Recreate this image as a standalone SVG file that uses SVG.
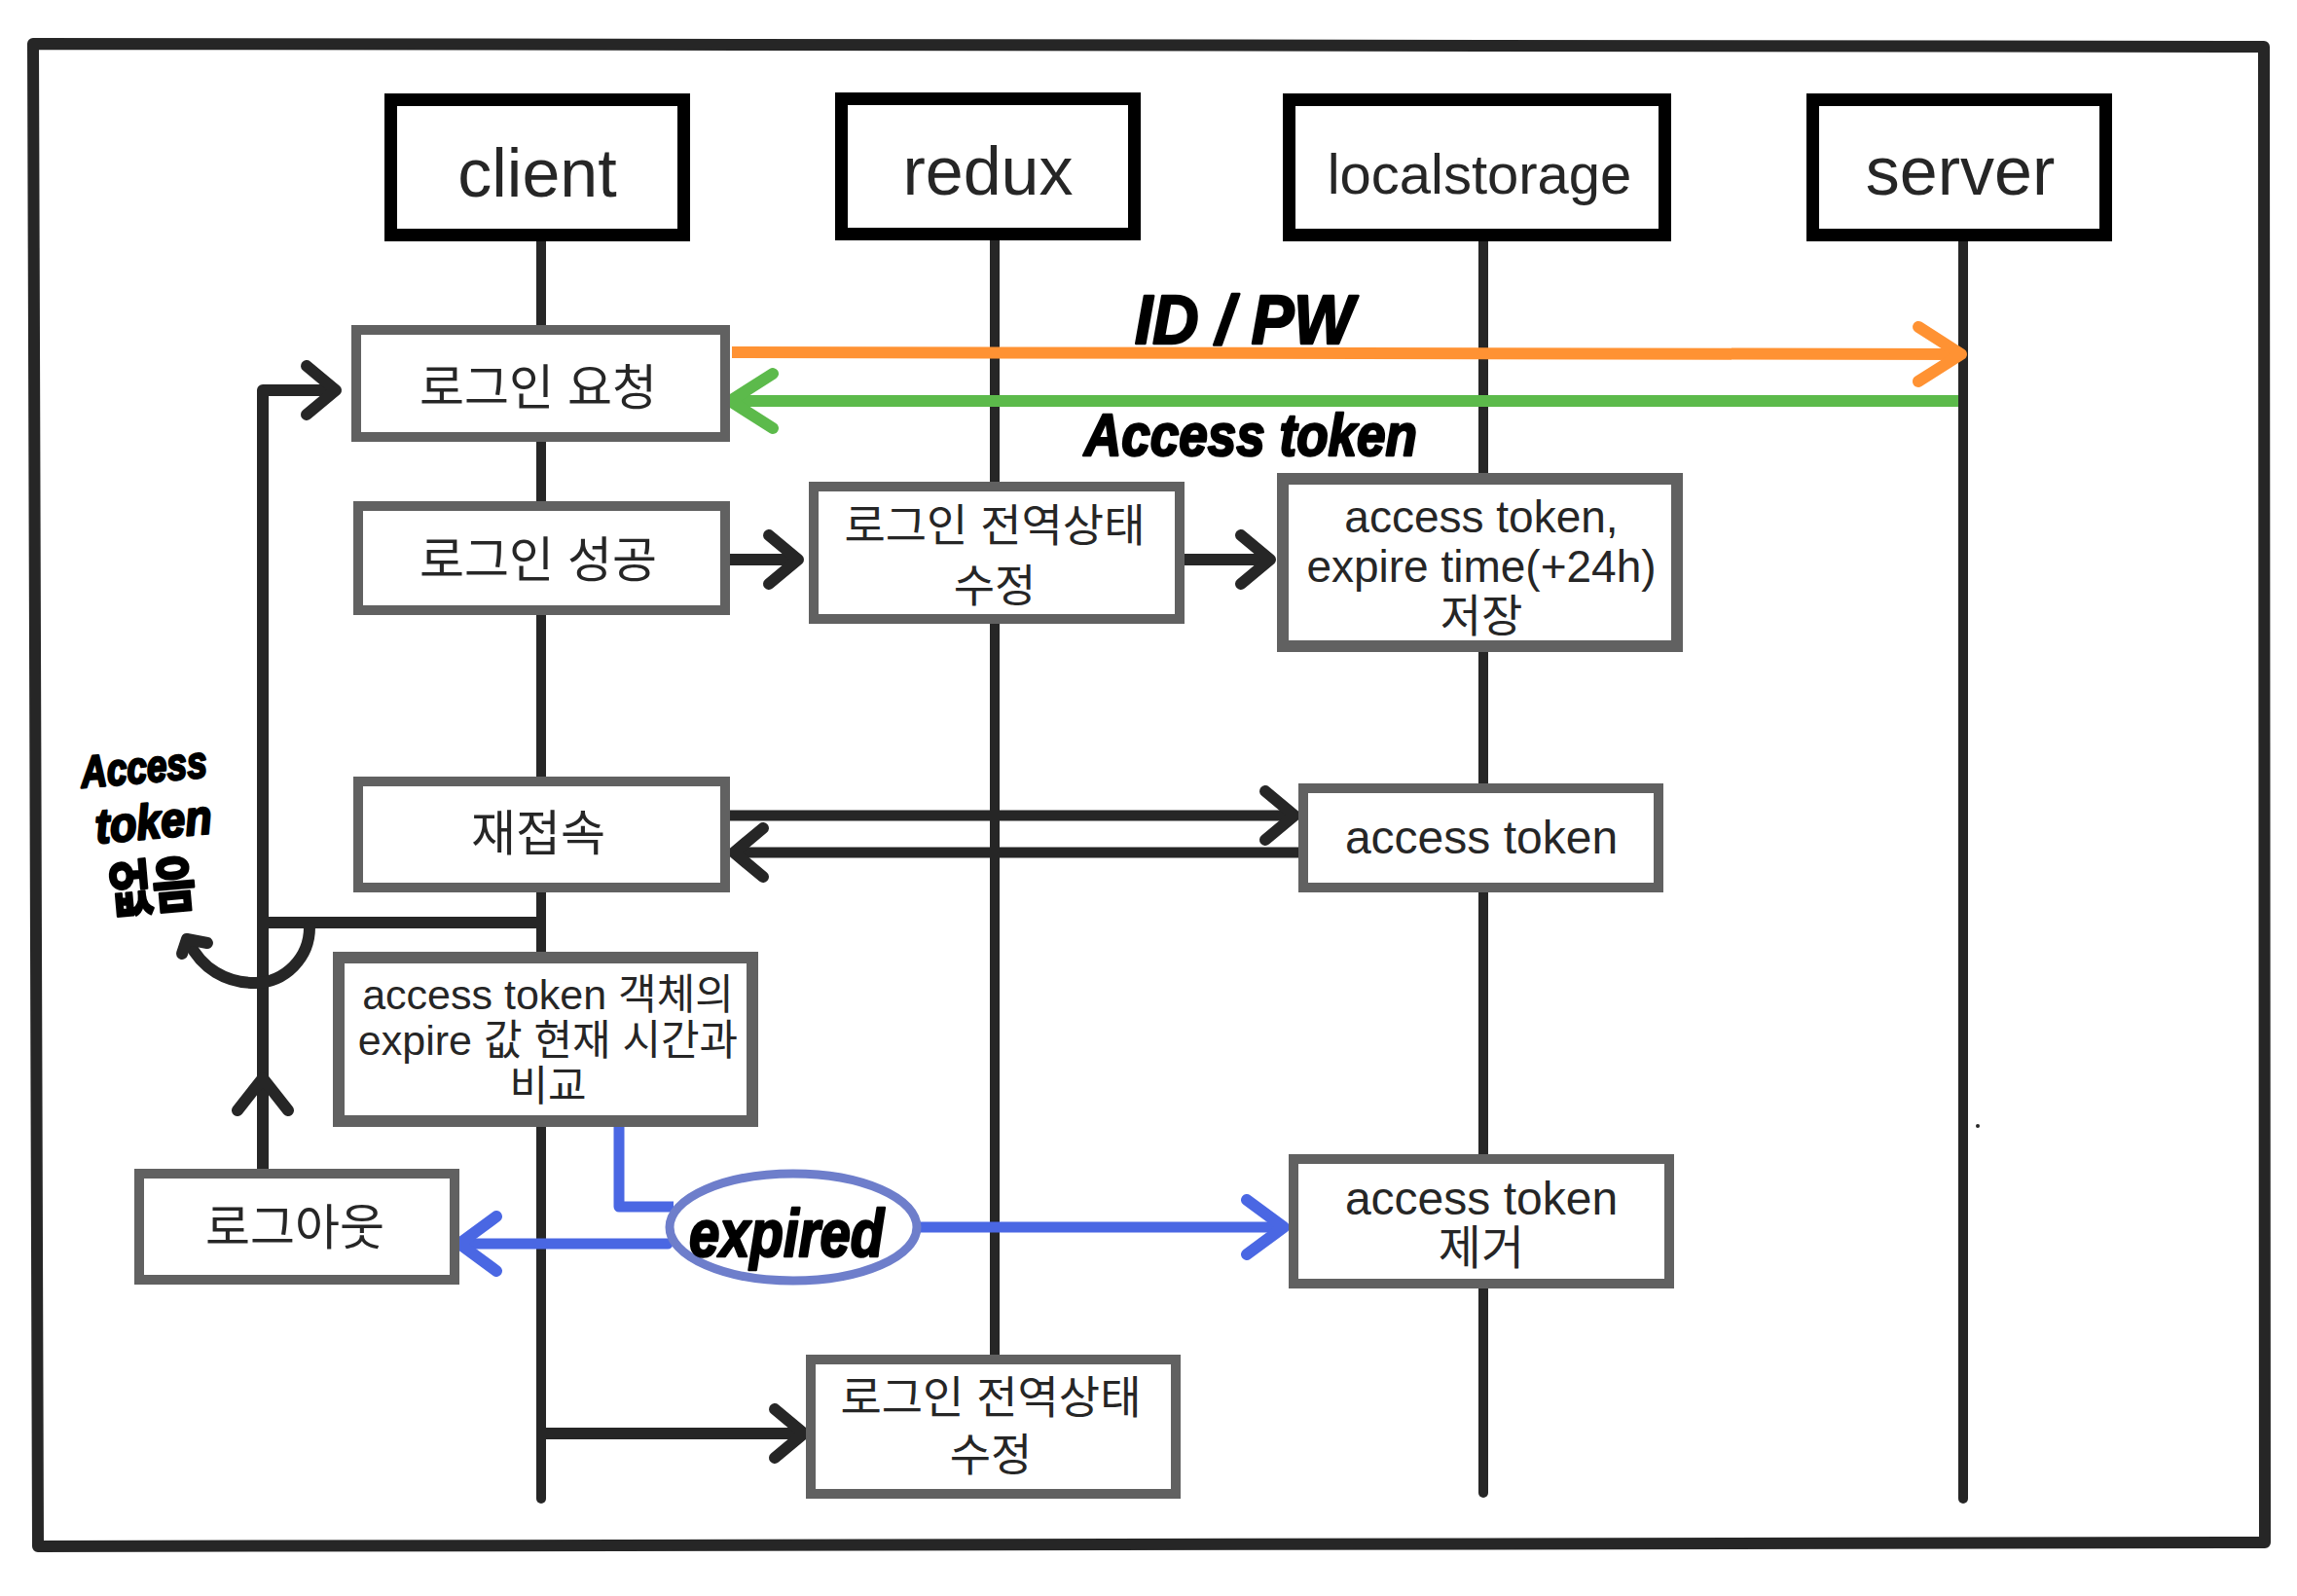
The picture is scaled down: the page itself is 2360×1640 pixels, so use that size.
<svg xmlns="http://www.w3.org/2000/svg" width="2360" height="1640" viewBox="0 0 2360 1640">
<defs>
<style>
.hdr{fill:#fff;stroke:#000;stroke-width:13}
.box{fill:#fff;stroke:#616161;stroke-width:10}
.box2{fill:#fff;stroke:#616161;stroke-width:12}
.life{stroke:#262626;stroke-width:10;stroke-linecap:round;fill:none}
.t{font-family:"Liberation Sans","Noto Sans CJK KR",sans-serif;fill:#262626;text-anchor:middle;dominant-baseline:central}
.h{font-size:70px}
.n{font-size:50px}
.m{font-size:46px}
.s{font-size:43px}
.hw{font-family:"Liberation Sans","Noto Sans CJK KR",sans-serif;font-weight:bold;font-style:italic;fill:#000;stroke:#000;stroke-width:2.5;stroke-linejoin:round}
.k{stroke:#262626;stroke-width:12;fill:none}
.kt{stroke:#262626;stroke-width:11;fill:none}
.or{stroke:#FF9233;stroke-width:12;fill:none}
.gr{stroke:#5CBA4B;stroke-width:12;fill:none}
.bl{stroke:#4A67E3;stroke-width:11;fill:none}
.chev{fill:none;stroke-width:12;stroke-linecap:round;stroke-linejoin:round}
</style>
<marker id="mk" markerUnits="userSpaceOnUse" viewBox="-40 -40 60 80" markerWidth="60" markerHeight="80" refX="0" refY="0" orient="auto" overflow="visible">
<path class="chev" stroke="#262626" d="M-30,-25 L0,0 L-30,25"/>
</marker>
<marker id="mo" markerUnits="userSpaceOnUse" viewBox="-50 -40 70 80" markerWidth="70" markerHeight="80" refX="0" refY="0" orient="auto" overflow="visible">
<path class="chev" stroke="#FF9233" d="M-44,-28 L0,0 L-44,28"/>
</marker>
<marker id="mg" markerUnits="userSpaceOnUse" viewBox="-50 -40 70 80" markerWidth="70" markerHeight="80" refX="0" refY="0" orient="auto" overflow="visible">
<path class="chev" stroke="#5CBA4B" d="M-44,-28 L0,0 L-44,28"/>
</marker>
<marker id="mb" markerUnits="userSpaceOnUse" viewBox="-50 -40 70 80" markerWidth="70" markerHeight="80" refX="0" refY="0" orient="auto" overflow="visible">
<path class="chev" stroke="#4A67E3" d="M-38,-28 L0,0 L-38,28"/>
</marker>
</defs>
<rect width="2360" height="1640" fill="#fff"/>
<path id="frame" d="M34,45 L2326,48 L2327,1585 L39,1589 Z" fill="none" stroke="#262626" stroke-width="12" stroke-linejoin="round"/>

<g id="lifelines">
<line class="life" x1="556" y1="248" x2="556" y2="1540"/>
<line class="life" x1="1022" y1="247" x2="1022" y2="1395"/>
<line class="life" x1="1524" y1="248" x2="1524" y2="1534"/>
<line class="life" x1="2017" y1="248" x2="2017" y2="1540"/>
</g>

<g id="connectors">
<line class="or" x1="752" y1="362" x2="2015" y2="364" marker-end="url(#mo)"/>
<line class="gr" x1="2012" y1="412" x2="750" y2="412" marker-end="url(#mg)"/>
<line class="k" x1="750" y1="575" x2="820" y2="575" marker-end="url(#mk)"/>
<line class="k" x1="1217" y1="575" x2="1305" y2="575" marker-end="url(#mk)"/>
<line class="kt" x1="750" y1="838" x2="1330" y2="838" marker-end="url(#mk)"/>
<line class="kt" x1="1334" y1="876" x2="754" y2="876" marker-end="url(#mk)"/>
<line class="k" x1="270" y1="948" x2="556" y2="948"/>
<path class="k" d="M270,1205 L270,401 L345,401" stroke-linejoin="round" marker-end="url(#mk)"/>
<path class="chev" stroke="#262626" d="M244,1141 L270,1108 L296,1141"/>
<path class="k" d="M318,953 A57,57 0 0 1 262,1010 C232,1010 207,995 194,968" stroke-linecap="round"/>
<path class="chev" stroke="#262626" d="M213,969 L192,965 L187,980"/>
<path class="bl" d="M636,1158 L636,1240 L692,1240" stroke-linejoin="round"/>
<line class="bl" x1="686" y1="1278" x2="472" y2="1278" stroke-linecap="round" marker-end="url(#mb)"/>
<line class="bl" x1="944" y1="1261" x2="1319" y2="1261" marker-end="url(#mb)"/>
<line class="k" x1="556" y1="1473" x2="826" y2="1473" marker-end="url(#mk)"/>
</g>

<g id="hdr-client"><rect class="hdr" x="401.5" y="102.5" width="301" height="139"/><text class="t h" x="552" y="178">client</text></g>
<g id="hdr-redux"><rect class="hdr" x="864.5" y="101.5" width="301" height="139"/><text class="t h" x="1015" y="176">redux</text></g>
<g id="hdr-localstorage"><rect class="hdr" x="1324.5" y="102.5" width="386" height="139"/><text class="t" style="font-size:58px" x="1520" y="178">localstorage</text></g>
<g id="hdr-server"><rect class="hdr" x="1862.5" y="102.5" width="301" height="139"/><text class="t h" x="2014" y="176">server</text></g>

<g id="n-login-req"><rect class="box" x="366" y="339" width="379" height="110"/><text class="t n" x="553" y="399">로그인 요청</text></g>
<g id="n-login-ok"><rect class="box" x="368" y="520" width="377" height="107"/><text class="t n" x="553" y="576">로그인 성공</text></g>
<g id="n-redux-set"><rect class="box" x="836" y="500" width="376" height="136"/><text class="t m" x="1022" y="540">로그인 전역상태</text><text class="t m" x="1022" y="602">수정</text></g>
<g id="n-ls-save"><rect class="box2" x="1318" y="492" width="405" height="172"/><text class="t m" x="1522" y="531">access token,</text><text class="t m" x="1522" y="582">expire time(+24h)</text><text class="t m" x="1522" y="633">저장</text></g>
<g id="n-reconnect"><rect class="box" x="368" y="803" width="377" height="109"/><text class="t n" x="553" y="857">재접속</text></g>
<g id="n-ls-token"><rect class="box" x="1339" y="810" width="365" height="102"/><text class="t" style="font-size:48px" x="1522" y="860">access token</text></g>
<g id="n-compare"><rect class="box2" x="348" y="984" width="425" height="168"/><text class="t s" x="563" y="1022">access token 객체의</text><text class="t s" x="563" y="1069">expire 값 현재 시간과</text><text class="t s" x="563" y="1116">비교</text></g>
<g id="n-logout"><rect class="box" x="143" y="1206" width="324" height="109"/><text class="t n" x="303" y="1262">로그아웃</text></g>
<g id="n-ls-remove"><rect class="box" x="1329" y="1191" width="386" height="128"/><text class="t" style="font-size:48px" x="1522" y="1231">access token</text><text class="t" style="font-size:48px" x="1522" y="1282">제거</text></g>
<g id="n-redux-reset"><rect class="box" x="833" y="1397" width="375" height="138"/><text class="t m" x="1018" y="1436">로그인 전역상태</text><text class="t m" x="1018" y="1495">수정</text></g>

<g id="n-expired"><ellipse cx="815" cy="1261" rx="127" ry="55" fill="#fff" stroke="#6E7ECB" stroke-width="9"/><text class="hw" x="808" y="1291" text-anchor="middle" style="font-size:68px" textLength="200" lengthAdjust="spacingAndGlyphs">expired</text></g>

<g id="labels">
<text class="hw" x="1166" y="353" style="font-size:70px" textLength="225" lengthAdjust="spacingAndGlyphs">ID / PW</text>
<text class="hw" x="1114" y="468" style="font-size:62px" textLength="342" lengthAdjust="spacingAndGlyphs">Access token</text>
<g transform="rotate(-5 150 850)">
<text class="hw" x="88" y="804" style="font-size:46px" textLength="130" lengthAdjust="spacingAndGlyphs">Access</text>
<text class="hw" x="98" y="862" style="font-size:50px" textLength="120" lengthAdjust="spacingAndGlyphs">token</text>
<text class="hw" x="106" y="934" style="font-size:62px;font-style:normal" textLength="90" lengthAdjust="spacingAndGlyphs">없음</text>
</g>
</g>
<circle cx="2032" cy="1157" r="2" fill="#262626"/>
</svg>
